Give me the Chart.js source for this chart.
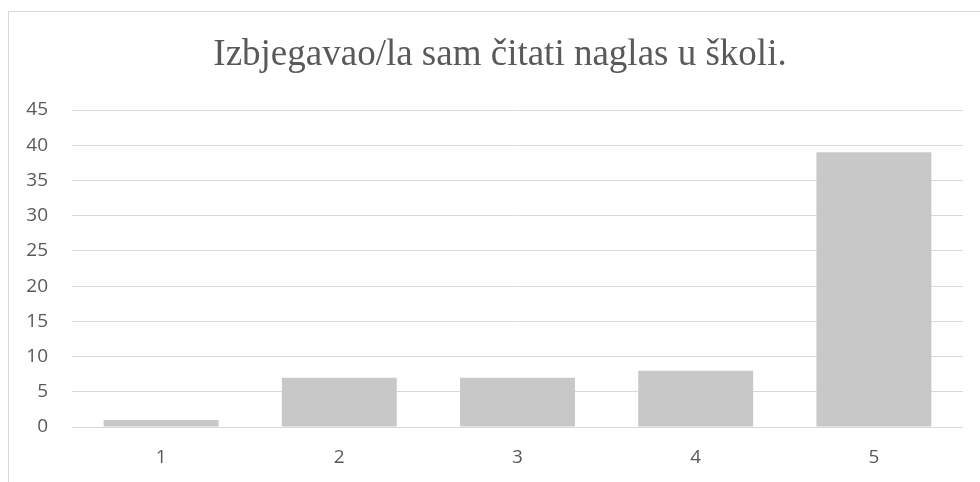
<!DOCTYPE html>
<html>
<head>
<meta charset="utf-8">
<script src="https://cdn.jsdelivr.net/npm/chart.js@4/dist/chart.umd.min.js"></script>
<style>
  html, body { margin:0; padding:0; background:#fff; }
  #wrap { width:980px; height:482px; position:relative; }
</style>
</head>
<body>
<div id="wrap"><canvas id="chart"></canvas></div>
<script>
// data
const categories = ['1', '2', '3', '4', '5'];
const counts = [1, 7, 7, 8, 39];
const titleText = 'Izbjegavao/la sam čitati naglas u školi.';
const yMax = 45;
const yStep = 5;

// light grey frame round the whole chart, plus the serif title
// (title drawn by hand: it sits a bit right of the plot centre in the original)
const framePlugin = {
  id: 'frame',
  beforeDraw(chart){
    const ctx = chart.ctx;
    ctx.save();
    ctx.fillStyle = '#fff';
    ctx.fillRect(0, 0, chart.width, chart.height);
    ctx.strokeStyle = '#d9d9d9';
    ctx.lineWidth = 1;
    ctx.strokeRect(8.5, 11.5, chart.width + 10, chart.height + 10);
    ctx.restore();
  },
  afterDraw(chart){
    const ctx = chart.ctx;
    ctx.save();
    ctx.fillStyle = '#595959';
    ctx.font = '37px "Liberation Serif", "Times New Roman", serif';
    ctx.textAlign = 'center';
    ctx.textBaseline = 'alphabetic';
    ctx.fillText(titleText, 500, 65);
    ctx.restore();
  }
};

const tickFont = { family: '"Open Sans", "Liberation Sans", sans-serif', size: 19 };

const ctx = document.getElementById('chart').getContext('2d');
new Chart(ctx, {
  type: 'bar',
  data: {
    labels: categories,
    datasets: [{
      data: counts,
      backgroundColor: '#c8c8c8',
      borderWidth: 0,
      categoryPercentage: 1,
      barPercentage: 0.645
    }]
  },
  options: {
    responsive: true,
    maintainAspectRatio: false,
    animation: false,
    layout: { padding: { left: 8, right: 17, top: 110, bottom: 0 } },
    plugins: {
      legend: { display: false },
      tooltip: { enabled: false },
      title: { display: false }
    },
    scales: {
      x: {
        grid: { display: false, drawTicks: false },
        border: { display: false },
        ticks: { color: '#595959', padding: 19, font: tickFont },
        afterFit(scale){ scale.height = 55; }
      },
      y: {
        min: 0,
        max: yMax,
        ticks: { stepSize: yStep, color: '#595959', padding: 24, font: tickFont },
        grid: { color: '#d9d9d9', lineWidth: 1, drawTicks: false },
        border: { display: false },
        afterFit(scale){ scale.width = 64; }
      }
    }
  },
  plugins: [framePlugin]
});
</script>
</body>
</html>
